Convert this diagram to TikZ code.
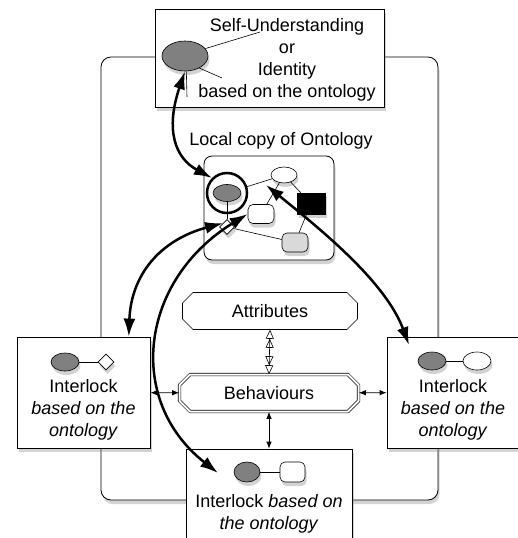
\documentclass[tikz,border=0pt]{standalone}
\usepackage{fontspec}
\setmainfont{Liberation Sans}
\usetikzlibrary{arrows.meta,shapes.geometric,shapes.misc,shadows,positioning}

\tikzset{
  shadowed/.style={drop shadow={opacity=.35,shadow xshift=1.5pt,shadow yshift=-4pt}},
  panel/.style={draw,line width=.8pt,fill=white,inner sep=0pt,shadowed},
  blob/.style={ellipse,draw,line width=.6pt,fill=black!50,inner sep=0pt,minimum width=28pt,minimum height=18pt,shadowed},
  hollow/.style={blob,fill=white},
  pill/.style={rectangle,rounded corners=5pt,draw,line width=.6pt,fill=white,inner sep=0pt,minimum width=26pt,minimum height=19pt,shadowed},
  gem/.style={diamond,draw,line width=.6pt,fill=white,inner sep=0pt,minimum size=16pt,shadowed},
  link/.style={line width=.6pt},
  bigarrow/.style={line width=2.5pt,{Latex[length=18pt,width=12pt]}-{Latex[length=18pt,width=12pt]}},
  smallarrow/.style={line width=.8pt,{Latex[length=7pt,width=5.5pt]}-{Latex[length=7pt,width=5.5pt]}},
  openarrow/.style={line width=.6pt,{Triangle[open,length=9pt,width=8pt] Triangle[open,length=9pt,width=8pt]}-{Triangle[open,length=9pt,width=8pt] Triangle[open,length=9pt,width=8pt]}},
  txt/.style={font=\fontsize{18}{22}\selectfont,align=center}
}

\begin{document}
\begin{tikzpicture}[x=1pt,y=-1pt]
\useasboundingbox (0,0) rectangle (518,538);

% outer frame
\node[panel,rounded corners=10pt,minimum width=337pt,minimum height=443pt] (world) at (269.5,278.5) {};

% self-understanding
\node[panel,minimum width=229pt,minimum height=98pt] (self) at (269.5,58) {};
\node[txt] (selftxt) at (287,59.5) {Self-Understanding\\or\\Identity\\based on the ontology};
\node[blob,minimum width=46pt,minimum height=30pt] (selfell) at (185,56) {};
\coordinate (p1) at (260,32);
\coordinate (p2) at (222,78);
\coordinate (p3) at (187,97);
\draw[link] (selfell.20) -- (p1);
\draw[link] (selfell.-40) -- (p2);
\draw[link] (selfell.-85) -- (p3);

% local copy of the ontology
\node[panel,rounded corners=8pt,minimum width=130pt,minimum height=104pt] (local) at (269,208) {};
\node[txt] (localtxt) at (281,141) {Local copy of Ontology};
\node[blob,minimum width=28pt,minimum height=17pt] (og) at (227,193) {};
\node[circle,draw,line width=2.5pt,minimum size=40pt,inner sep=0pt] (ring) at (227,193) {};
\node[hollow,minimum width=26pt,minimum height=16pt] (ow) at (284,175) {};
\node[draw,fill=black,line width=.6pt,minimum width=28pt,minimum height=21pt,inner sep=0pt,shadowed] (ob) at (311,203.5) {};
\node[pill] (or) at (261,214) {};
\node[pill,fill=black!15] (olg) at (295,242.5) {};
\node[gem,minimum size=15pt] (od) at (227,227) {};
\draw[link] (ring) -- (ow);
\draw[link] (ow) -- (or);
\draw[link] (ow) -- (ob);
\draw[link] (ob) -- (olg);
\draw[link] (og) -- (od);
\draw[link] (od) -- (olg);

% attributes and behaviours
\node[chamfered rectangle,chamfered rectangle xsep=7pt,draw,line width=.6pt,minimum width=175pt,minimum height=37pt,txt] (attr) at (270,311) {Attributes};
\node[chamfered rectangle,chamfered rectangle xsep=7pt,draw,line width=.6pt,double,double distance=2pt,minimum width=179pt,minimum height=37pt,txt] (beh) at (269,393) {Behaviours};
\draw[openarrow] (attr.south) -- (beh.north);

% interlocks
\node[panel,minimum width=133pt,minimum height=111pt] (lbox) at (83.5,392.5) {};
\node[blob] (lg) at (65,362) {};
\node[gem] (ld) at (106,362) {};
\draw[link] (lg) -- (ld);
\node[txt] (ltxt) at (83.5,410) {Interlock\\\textit{based on the}\\\textit{ontology}};

\node[panel,minimum width=132pt,minimum height=111pt] (rbox) at (453,392.5) {};
\node[blob] (rg) at (432,361) {};
\node[hollow] (rw) at (477,361) {};
\draw[link] (rg) -- (rw);
\node[txt] (rtxt) at (453,410) {Interlock\\\textit{based on the}\\\textit{ontology}};

\node[panel,minimum width=166pt,minimum height=111pt] (bbox) at (269,504.5) {};
\node[blob,minimum width=26pt,minimum height=20pt] (bg) at (247,472) {};
\node[pill,minimum width=25pt,minimum height=20pt] (bp) at (292.5,472) {};
\draw[link] (bg) -- (bp);
\node[txt] (btxt) at (269,513.5) {Interlock \textit{based on}\\\textit{the ontology}};

% links to behaviours
\draw[smallarrow] (lbox) -- (beh);
\draw[smallarrow] (beh) -- (rbox);
\draw[smallarrow] (beh.south) -- (bbox.north);

% mappings onto the ontology
\coordinate (bin) at (218,473);
\coordinate (rin) at (409,345);
\coordinate (owtip) at (266,185);
\draw[bigarrow] (selfell.south) .. controls (165,130) and (175,158) .. (ring.north west);
\draw[bigarrow] (lbox.51) .. controls (131,275) and (160,240) .. (od.north west);
\draw[bigarrow] (or.west) .. controls (140,280) and (125,400) .. (bin);
\draw[bigarrow] (owtip) .. controls (315,225) and (385,280) .. (rin);
\end{tikzpicture}
\end{document}
